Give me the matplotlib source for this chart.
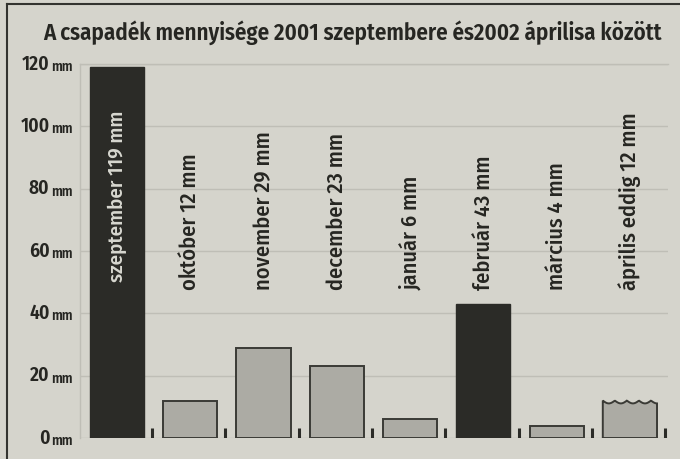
"""
Csapadek mennyisege 2001 szeptember - 2002 aprilis (bar chart recreation)
"""

import numpy as np
import matplotlib
matplotlib.use("Agg")
import matplotlib.pyplot as plt
from matplotlib.lines import Line2D

# data
months = ["szeptember", "október", "november", "december",
          "január", "február", "március", "április eddig"]
rain_mm = [119, 12, 29, 23, 6, 43, 4, 12]
dark_bar = [True, False, False, False, False, True, False, False]
partial = [False, False, False, False, False, False, False, True]
yticks = [0, 20, 40, 60, 80, 100, 120]
title = "A csapadék mennyisége 2001 szeptembere és2002 áprilisa között"

bg = "#d5d4cc"
dark = "#2b2b27"
light = "#acaba4"
edge = "#3a3a35"
txt = "#262622"
font = ["Fira Sans Condensed", "Roboto Condensed", "Archivo Narrow", "DejaVu Sans"]

fig = plt.figure(figsize=(6.8, 4.59), dpi=100, facecolor=bg)
ax = fig.add_axes([80/680, 1-438/459, 588/680, (438-64)/459], facecolor=bg)

x = np.arange(len(months))
width = 0.74
for i, v in enumerate(rain_mm):
    if dark_bar[i]:
        ax.bar(x[i], v, width, color=dark, edgecolor=dark, zorder=3)
    elif partial[i]:
        # month not finished yet: wavy top edge
        xs = np.linspace(x[i] - width/2, x[i] + width/2, 80)
        top = v - 0.9 * np.abs(np.sin(4.5 * np.pi * (xs - xs[0]) / width))
        px = np.concatenate([[xs[0]], xs, [xs[-1]]])
        py = np.concatenate([[0], top, [0]])
        ax.fill(px, py, facecolor=light, edgecolor=edge, linewidth=1.4,
                zorder=3)
    else:
        ax.bar(x[i], v, width, color=light, edgecolor=edge,
               linewidth=1.4, zorder=3)

    # small mark to the right of every bar
    ax.vlines(x[i] + 0.48, 0, 3.2, color=dark, linewidth=2.2, zorder=3)

    lab = "%s %d mm" % (months[i], v)
    if i == 0:
        ax.text(x[i], 50, lab, rotation=90, ha="center", va="bottom",
                color="#d8d8d0", fontsize=15, fontweight="medium",
                family=font, zorder=4)
    else:
        ax.text(x[i], 47.5, lab, rotation=90, ha="center", va="bottom",
                color=txt, fontsize=16, fontweight="medium",
                family=font, zorder=4)

ax.set_xlim(-0.505, 7.52)
ax.set_ylim(0, 120)
ax.set_yticks(yticks)
ax.set_yticklabels([])
ax.set_xticks([])
ax.tick_params(length=0)
ax.grid(axis="y", color="#bfbeb6", linewidth=1.0, zorder=0)
for s in ax.spines.values():
    s.set_color("#bfbeb6")
    s.set_linewidth(1.0)
ax.spines["bottom"].set_visible(False)
ax.spines["right"].set_visible(False)

tr = ax.get_yaxis_transform()
for t in yticks:
    ax.text(-0.052, t, str(t), transform=tr, ha="right", va="center",
            fontsize=14, fontweight="semibold", family=font, color=txt)
    ax.text(-0.049, t - 0.9, "mm", transform=tr, ha="left", va="center",
            fontsize=10, fontweight="semibold", family=font, color=txt)

fig.text(352/680, 1-33/459, title, ha="center", va="center",
         fontsize=16.5, fontweight="semibold", family=font, color=txt)

# page border lines (left and top)
fig.add_artist(Line2D([7/680, 7/680], [0, 1-4/459], color="#33332f",
                      linewidth=1.5, transform=fig.transFigure))
fig.add_artist(Line2D([7/680, 1], [1-4/459, 1-4/459], color="#33332f",
                      linewidth=1.5, transform=fig.transFigure))

fig.savefig("out.png", dpi=100, facecolor=bg)
